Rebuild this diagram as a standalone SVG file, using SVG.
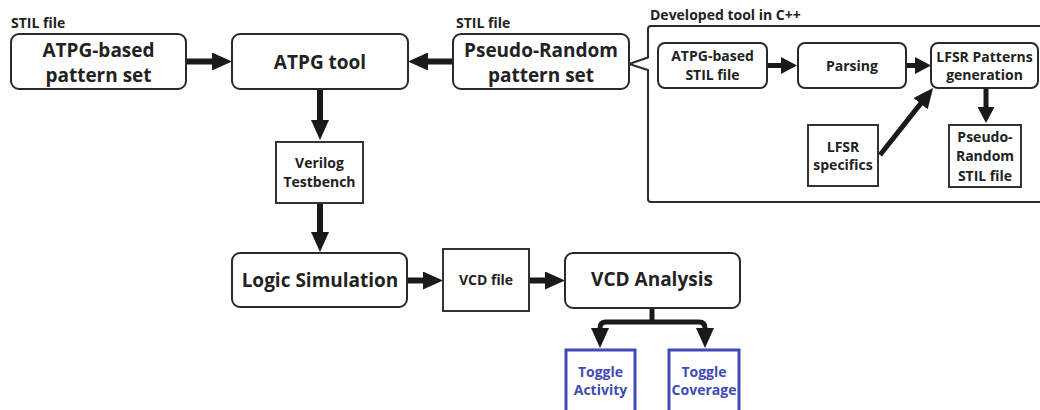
<svg xmlns="http://www.w3.org/2000/svg" width="1040" height="410" viewBox="0 0 1040 410">
<style>
text{font-family:"Open Sans","Noto Sans","Liberation Sans",sans-serif;font-weight:700;fill:#222;text-anchor:middle}
.big{font-size:19px}
.sm{font-size:14px}
.lbl{font-size:14px;text-anchor:start}
.blue{fill:#3f4bb5}
.rbox{fill:#fff;stroke:#2a2a2a;stroke-width:2}
.sbox{fill:#fff;stroke:#333;stroke-width:2}
.bbox{fill:#fff;stroke:#3f4bb5;stroke-width:3}
.ln{fill:none;stroke:#1a1a1a;stroke-width:6}
.ln5{fill:none;stroke:#1a1a1a;stroke-width:5}
.cont{fill:none;stroke:#2a2a2a;stroke-width:2}
</style>
<defs>
<marker id="ah" viewBox="0 0 20 18" refX="8" refY="9" markerWidth="20" markerHeight="18" markerUnits="userSpaceOnUse" orient="auto"><path d="M0,0 L20,9 L0,18 Z" fill="#1a1a1a"/></marker>
<marker id="as" viewBox="0 0 16 17" refX="6" refY="8.5" markerWidth="16" markerHeight="17" markerUnits="userSpaceOnUse" orient="auto"><path d="M0,0 L16,8.5 L0,17 Z" fill="#1a1a1a"/></marker>
</defs>
<rect width="1040" height="410" fill="#fff"/>

<g id="labels">
<text class="lbl" x="11" y="28">STIL file</text>
<text class="lbl" x="456" y="28">STIL file</text>
<text class="lbl" x="650" y="20">Developed tool in C++</text>
</g>

<g id="container">
<path class="cont" d="M648,57.5 L629,64 L648,70 V199 Q648,202 651,202 H1045 V26 H651 Q648,26 648,29 Z"/>
</g>

<g id="connectors">
<line class="ln" x1="186" y1="61.5" x2="220" y2="61.5" marker-end="url(#ah)"/>
<line class="ln" x1="453" y1="61.5" x2="420" y2="61.5" marker-end="url(#ah)"/>
<line class="ln" x1="320" y1="89" x2="320" y2="128" marker-end="url(#ah)"/>
<line class="ln" x1="320" y1="203" x2="320" y2="240" marker-end="url(#ah)"/>
<line class="ln" x1="407" y1="280.5" x2="431" y2="280.5" marker-end="url(#ah)"/>
<line class="ln" x1="529" y1="280.5" x2="553" y2="280.5" marker-end="url(#ah)"/>
<path class="ln5" d="M652,308 V322"/>
<path class="ln5" d="M652,322 H606 Q600,322 600,328 V336" marker-end="url(#ah)"/>
<path class="ln5" d="M652,322 H699 Q705,322 705,328 V336" marker-end="url(#ah)"/>
<line class="ln5" x1="767" y1="65.5" x2="787" y2="65.5" marker-end="url(#as)"/>
<line class="ln5" x1="906" y1="65.5" x2="921" y2="65.5" marker-end="url(#as)"/>
<line class="ln5" x1="986" y1="88" x2="986" y2="113" marker-end="url(#as)"/>
<line class="ln5" x1="880" y1="155" x2="925.6" y2="97.4" marker-end="url(#ah)"/>
</g>

<g id="atpg-based">
<rect class="rbox" x="11" y="34" width="175" height="55" rx="8"/>
<text class="big" x="98.5" y="57">ATPG-based</text>
<text class="big" x="98.5" y="82">pattern set</text>
</g>
<g id="atpg-tool">
<rect class="rbox" x="232" y="34" width="176" height="55" rx="8"/>
<text class="big" x="320" y="69">ATPG tool</text>
</g>
<g id="pseudo-random">
<rect class="rbox" x="453" y="34" width="176" height="55" rx="8"/>
<text class="big" x="541" y="57">Pseudo-Random</text>
<text class="big" x="541" y="82">pattern set</text>
</g>
<g id="atpg-stil">
<rect class="rbox" x="658" y="43" width="109" height="45" rx="7"/>
<text class="sm" x="712.5" y="61">ATPG-based</text>
<text class="sm" x="712.5" y="80">STIL file</text>
</g>
<g id="parsing">
<rect class="rbox" x="798" y="43" width="108" height="45" rx="7"/>
<text class="sm" x="852" y="71">Parsing</text>
</g>
<g id="lfsr-gen">
<rect class="rbox" x="931" y="43" width="107" height="45" rx="7"/>
<text class="sm" x="984.5" y="62">LFSR Patterns</text>
<text class="sm" x="984.5" y="80">generation</text>
</g>
<g id="lfsr-spec">
<rect class="sbox" x="808" y="125" width="70" height="61"/>
<text class="sm" x="843" y="152">LFSR</text>
<text class="sm" x="843" y="170">specifics</text>
</g>
<g id="pr-stil">
<rect class="sbox" x="949" y="125" width="72" height="62"/>
<text class="sm" x="985" y="142">Pseudo-</text>
<text class="sm" x="985" y="161">Random</text>
<text class="sm" x="985" y="181">STIL file</text>
</g>
<g id="verilog">
<rect class="sbox" x="276" y="142" width="87" height="61"/>
<text class="sm" x="319.5" y="168">Verilog</text>
<text class="sm" x="319.5" y="187">Testbench</text>
</g>
<g id="logic-sim">
<rect class="rbox" x="232" y="253" width="175" height="54" rx="8"/>
<text class="big" x="320" y="287">Logic Simulation</text>
</g>
<g id="vcd-file">
<rect class="sbox" x="443" y="249" width="86" height="62"/>
<text class="sm" x="486" y="285">VCD file</text>
</g>
<g id="vcd-analysis">
<rect class="rbox" x="565" y="253" width="175" height="55" rx="8"/>
<text class="big" x="652" y="286">VCD Analysis</text>
</g>
<g id="toggle-activity">
<rect class="bbox" x="566" y="350" width="69" height="70"/>
<text class="sm blue" x="600.5" y="377">Toggle</text>
<text class="sm blue" x="600.5" y="395">Activity</text>
</g>
<g id="toggle-coverage">
<rect class="bbox" x="669" y="350" width="70" height="70"/>
<text class="sm blue" x="704" y="377">Toggle</text>
<text class="sm blue" x="704" y="395">Coverage</text>
</g>
</svg>
